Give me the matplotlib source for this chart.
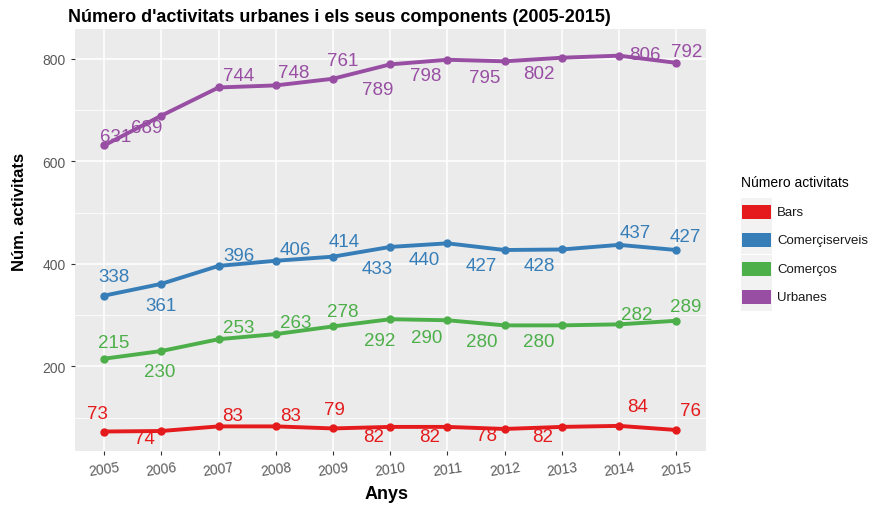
import numpy as np
import matplotlib
matplotlib.use("Agg")
import matplotlib.pyplot as plt
from matplotlib.patches import Rectangle

plt.rcParams['font.family'] = ['Liberation Sans', 'DejaVu Sans']

# data
years = [2005, 2006, 2007, 2008, 2009, 2010, 2011, 2012, 2013, 2014, 2015]
bars = [73, 74, 83, 83, 79, 82, 82, 78, 82, 84, 76]
comercserveis = [338, 361, 396, 406, 414, 433, 440, 427, 428, 437, 427]
comercos = [215, 230, 253, 263, 278, 292, 290, 280, 280, 282, 289]
urbanes = [631, 689, 744, 748, 761, 789, 798, 795, 802, 806, 792]
series_names = ["Bars", "Comerçiserveis", "Comerços", "Urbanes"]

colors = {"Bars": "#E41A1C", "Comerçiserveis": "#377EB8",
          "Comerços": "#4DAF4A", "Urbanes": "#984EA3"}

# label offsets in pixels (dx right, dy down), mimicking the repelled labels
offsets = {
    "Bars": [(-7, -18), (-17, 7), (14, -11), (15, -11), (1, -19), (-17, 10),
             (-18, 10), (-18, 7), (-19, 10), (19, -19), (14, -19)],
    "Comerçiserveis": [(10, -19), (0, 22), (20, -10), (20, -11), (11, -15),
                       (-13, 22), (-23, 16), (-23, 16), (-23, 16), (16, -12),
                       (9, -13)],
    "Comerços": [(10, -16), (-2, 20), (20, -12), (20, -12), (10, -15),
                 (-11, 21), (-21, 17), (-23, 16), (-23, 16), (18, -10),
                 (9, -14)],
    "Urbanes": [(11, -9), (-15, 12), (20, -12), (18, -13), (10, -18),
                (-13, 25), (-22, 16), (-20, 16), (-23, 16), (26, -1),
                (10, -11)],
}

values = {"Bars": bars, "Comerçiserveis": comercserveis,
          "Comerços": comercos, "Urbanes": urbanes}

W, H = 872, 506
fig = plt.figure(figsize=(W / 100, H / 100), dpi=100)
ax = fig.add_axes([75 / W, 1 - 452 / H, (706 - 75) / W, (452 - 30) / H])
ax.set_facecolor("#EBEBEB")

px = 0.72  # points per pixel
for name in series_names:
    vals = values[name]
    ax.plot(years, vals, color=colors[name], lw=2.8, marker="o",
            markersize=5, zorder=3, solid_capstyle="round")
    for x, v, (dx, dy) in zip(years, vals, offsets[name]):
        ax.annotate(str(v), (x, v), xytext=(dx * px, -dy * px),
                    textcoords="offset points", ha="center", va="center",
                    color=colors[name], fontsize=13.5, zorder=4)

ax.set_xlim(2004.49, 2015.52)
ax.set_ylim(35, 858)
ax.set_xticks(years)
ax.set_xticklabels([str(y) for y in years], rotation=8)
ax.set_yticks([200, 400, 600, 800])
ax.set_yticks([100, 300, 500, 700], minor=True)
ax.grid(True, which="major", color="white", lw=1.1, zorder=0)
ax.grid(True, which="minor", axis="y", color="white", lw=0.55, zorder=0)
ax.set_axisbelow(True)
for s in ax.spines.values():
    s.set_visible(False)
ax.tick_params(axis="both", which="major", colors="#333333", length=3,
               width=0.8, labelsize=10, labelcolor="#5A5A5A")
ax.tick_params(axis="y", which="minor", length=0)

fig.text(387 / W, 1 - 495 / H, "Anys", fontsize=13, fontweight="bold",
         ha="center", va="center")
fig.text(20 / W, 1 - 212 / H, "Núm. activitats", fontsize=12,
         fontweight="bold", rotation=90, ha="center", va="center")

fig.text(68 / W, 1 - 17 / H, "Número d'activitats urbanes i els seus components (2005-2015)",
         fontsize=13, fontweight="bold", ha="left", va="center")

# legend drawn by hand, ggplot style
fig.text(741 / W, 1 - 183 / H, "Número activitats", fontsize=10,
         ha="left", va="center")
rows_y = [213, 241, 270, 298]
for name, yc in zip(series_names, rows_y):
    fig.patches.append(Rectangle((741 / W, 1 - (yc + 14) / H), 31 / W, 28 / H,
                                 transform=fig.transFigure, facecolor="#F2F2F2",
                                 edgecolor="none"))
    fig.patches.append(Rectangle((742 / W, 1 - (yc + 7) / H), 29 / W, 14 / H,
                                 transform=fig.transFigure,
                                 facecolor=colors[name], edgecolor="none"))
    fig.text(777 / W, 1 - yc / H, name, fontsize=9.5, ha="left", va="center",
             color="#1A1A1A")

fig.savefig("out.png", dpi=100)
